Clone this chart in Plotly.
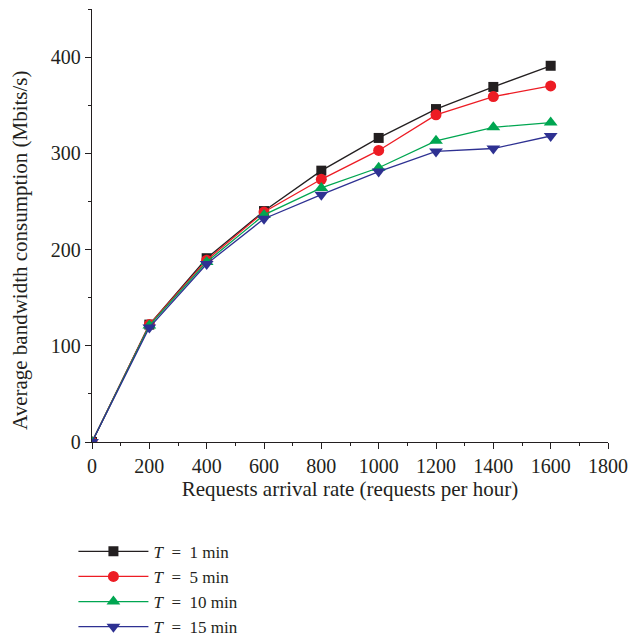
import plotly.graph_objects as go

x = [0, 200, 400, 600, 800, 1000, 1200, 1400, 1600]
t1 = [0, 122, 191, 240, 282, 316, 346, 369, 391]
t5 = [0, 122, 189, 239, 273, 303, 340, 359, 370]
t10 = [0, 121, 187, 236, 264, 285, 313, 327, 332]
t15 = [0, 119, 185, 232, 257, 281, 302, 305, 318]

names = ["<i>T</i>\u2002=\u20021 min", "<i>T</i>\u2002=\u20025 min",
         "<i>T</i>\u2002=\u200210 min", "<i>T</i>\u2002=\u200215 min"]
colors = ["#231f20", "#ed1c24", "#00a651", "#2e3192"]
symbols = ["square", "circle", "triangle-up", "triangle-down"]
sizes = [10, 11, 12, 12]
series = [t1, t5, t10, t15]

font = "Liberation Serif, Times New Roman, serif"
txt = "#231f20"

fig = go.Figure()
for s, n, c, m, sz in zip(series, names, colors, symbols, sizes):
    fig.add_trace(go.Scatter(x=x, y=s, name=n, mode="lines+markers",
                             line=dict(color=c, width=1.3),
                             marker=dict(symbol=m, size=sz, color=c)))

axis_common = dict(showline=True, linecolor=txt, linewidth=1.3, ticks="outside",
                   ticklen=6, tickwidth=1.3, tickcolor=txt, showgrid=False, zeroline=False,
                   tickfont=dict(family=font, size=20, color=txt),
                   mirror=False)
fig.update_xaxes(range=[0, 1800], dtick=200, tick0=0,
                 minor=dict(ticks="outside", ticklen=3, tickwidth=1.3, tickcolor=txt, dtick=100),
                 title=dict(text="Requests arrival rate (requests per hour)",
                            font=dict(family=font, size=21, color=txt), standoff=4),
                 **axis_common)
fig.update_yaxes(range=[0, 450], dtick=100, tick0=0,
                 minor=dict(ticks="outside", ticklen=3, tickwidth=1.3, tickcolor=txt, dtick=50),
                 **axis_common)
fig.add_annotation(text="Average bandwidth consumption (Mbits/s)", xref="paper", yref="paper",
                   x=-0.14, y=0.443, xanchor="center", yanchor="middle", textangle=-90,
                   showarrow=False, font=dict(family=font, size=21, color=txt))
fig.update_layout(width=642, height=638, plot_bgcolor="white", paper_bgcolor="white",
                  margin=dict(l=92, r=34, t=9, b=196, autoexpand=False),
                  legend=dict(x=-0.036, y=-0.212, xanchor="left", yanchor="top",
                              font=dict(family=font, size=17, color=txt),
                              itemwidth=70, tracegroupgap=0,
                              bgcolor="rgba(0,0,0,0)"),
                  showlegend=True)
fig.write_html("out.html")
